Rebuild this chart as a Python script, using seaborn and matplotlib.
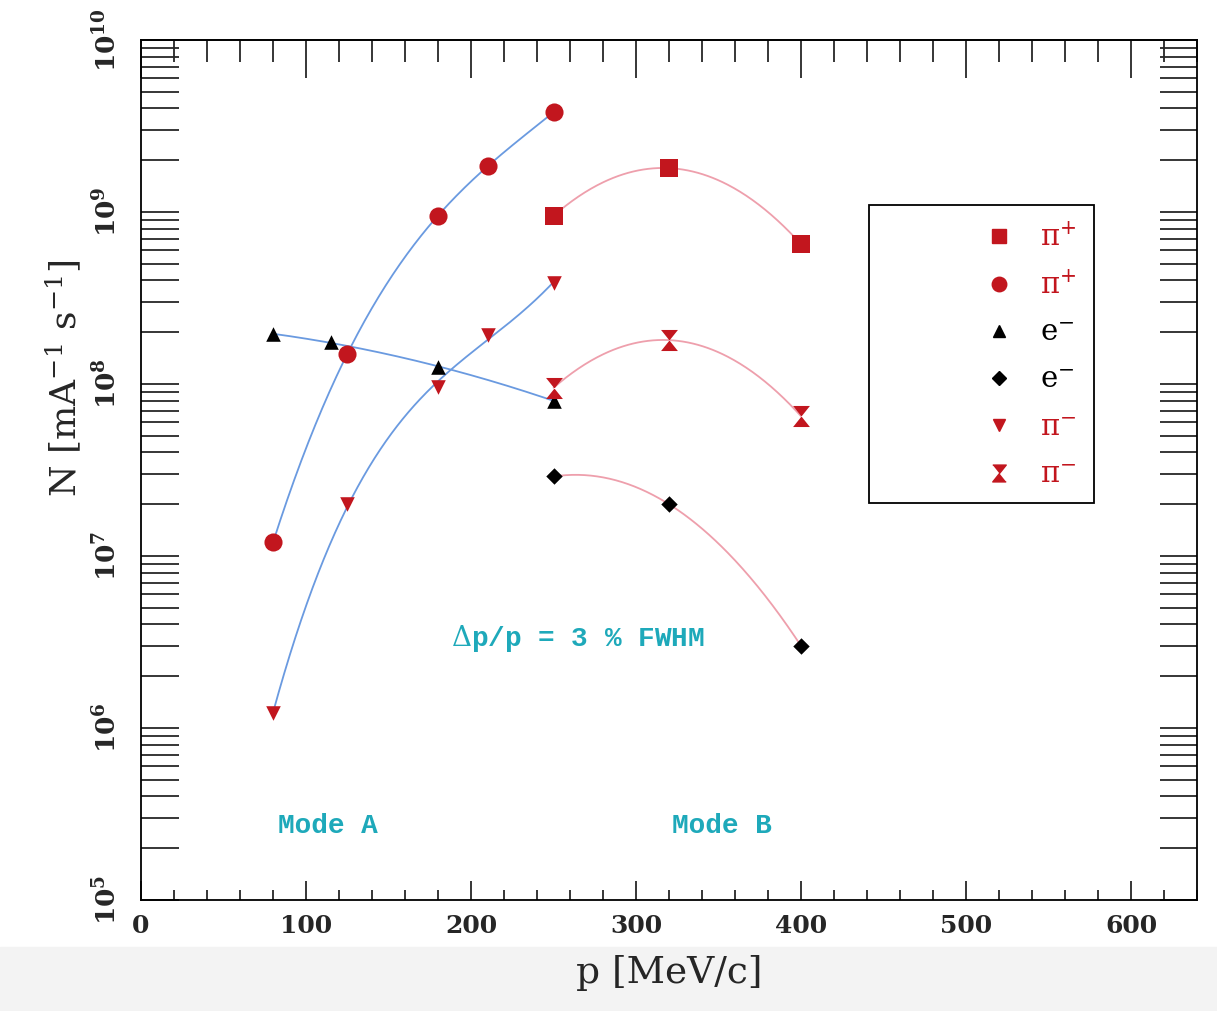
import numpy as np
import pandas as pd
import seaborn as sns
import matplotlib.pyplot as plt
from matplotlib.lines import Line2D
from matplotlib.patches import Rectangle
from matplotlib.ticker import LogLocator, MultipleLocator, FuncFormatter, NullFormatter

# --- data ---
# Mode A (blue curves)
pip_a_p = [80, 125, 180, 210, 250]
pip_a_n = [1.2e7, 1.5e8, 9.5e8, 1.85e9, 3.8e9]
em_a_p = [80, 115, 180, 250]
em_a_n = [1.95e8, 1.75e8, 1.26e8, 8.0e7]
pim_a_p = [80, 125, 180, 210, 250]
pim_a_n = [1.22e6, 2.0e7, 9.6e7, 1.93e8, 3.86e8]
# Mode B (pink curves)
pip_b_p = [250, 320, 400]
pip_b_n = [9.5e8, 1.8e9, 6.5e8]
em_b_p = [250, 320, 400]
em_b_n = [2.9e7, 2.0e7, 3.0e6]
pim_b_p = [250, 320, 400]
pim_b_n = [9.5e7, 1.8e8, 6.5e7]

RED = "#c2161e"
BLUE = "#6a9ae0"
PINK = "#ee9fac"
CYAN = "#1ea9ba"
HOURGLASS = [(-0.8, 1), (0.8, 1), (-0.8, -1), (0.8, -1)]

sns.set_theme(style="ticks")
plt.rcParams["font.family"] = ["DejaVu Serif"]
plt.rcParams["mathtext.fontset"] = "dejavuserif"

fig = plt.figure(figsize=(12.17, 10.11), dpi=100)
# light grey strip at the bottom of the screenshot
fig.patches.append(Rectangle((0, 0), 1, 0.063, transform=fig.transFigure,
                             color="#f3f3f3", zorder=-5))
ax = fig.add_axes([0.1159, 0.1098, 0.8677, 0.8506])


def smooth(p, n, deg):
    # smooth curve through the points, fitted in log space
    coef = np.polyfit(p, np.log10(n), deg)
    xs = np.linspace(min(p), max(p), 200)
    return pd.DataFrame({"p": xs, "n": 10 ** np.polyval(coef, xs)})


curves = [
    (pip_a_p, pip_a_n, 3, BLUE),
    (em_a_p, em_a_n, 2, BLUE),
    (pim_a_p, pim_a_n, 3, BLUE),
    (pip_b_p, pip_b_n, 2, PINK),
    (em_b_p, em_b_n, 2, PINK),
    (pim_b_p, pim_b_n, 2, PINK),
]
for p, n, deg, col in curves:
    sns.lineplot(data=smooth(p, n, deg), x="p", y="n", color=col, lw=1.3,
                 ax=ax, zorder=2)

series = [
    (pip_b_p, pip_b_n, "s", RED, 150),
    (pip_a_p, pip_a_n, "o", RED, 170),
    (em_a_p, em_a_n, "^", "black", 110),
    (em_b_p, em_b_n, "D", "black", 70),
    (pim_a_p, pim_a_n, "v", RED, 110),
    (pim_b_p, pim_b_n, HOURGLASS, RED, 230),
]
for p, n, m, col, s in series:
    sns.scatterplot(x=p, y=n, marker=m, color=col, s=s, linewidth=0,
                    ax=ax, zorder=3)

ax.set_yscale("log")
ax.set_xlim(0, 640)
ax.set_ylim(1e5, 1e10)

# ticks
ax.xaxis.set_major_locator(MultipleLocator(100))
ax.xaxis.set_minor_locator(MultipleLocator(20))
ax.yaxis.set_major_locator(LogLocator(base=10, numticks=10))
ax.yaxis.set_minor_locator(LogLocator(base=10, subs=np.arange(2, 10), numticks=20))
ax.yaxis.set_minor_formatter(NullFormatter())
ax.yaxis.set_major_formatter(FuncFormatter(lambda v, _: r"$\mathbf{10^{%d}}$" % round(np.log10(v))))
ax.tick_params(axis="y", which="both", direction="in", left=True, right=True,
               length=27, width=1.3, labelsize=19, pad=14)
ax.tick_params(axis="x", which="major", direction="in", length=14, width=1.3,
               labelsize=18, pad=10)
ax.tick_params(axis="x", which="minor", direction="in", length=7, width=1.3)
for lab in ax.get_yticklabels():
    lab.set_rotation(90)
    lab.set_va("center")
for lab in ax.get_xticklabels():
    lab.set_fontweight("bold")

top = ax.secondary_xaxis("top")
top.xaxis.set_major_locator(MultipleLocator(100))
top.xaxis.set_minor_locator(MultipleLocator(20))
top.tick_params(which="major", direction="in", length=27, width=1.3, labeltop=False)
top.tick_params(which="minor", direction="in", length=16, width=1.3)
top.spines["top"].set_linewidth(1.3)

for sp in ax.spines.values():
    sp.set_linewidth(1.3)
    sp.set_color("black")

ax.set_xlabel("p [MeV/c]", fontsize=27, labelpad=12)
ax.set_ylabel(r"N [mA$^{-1}$ s$^{-1}$]", fontsize=26)
ax.yaxis.set_label_coords(-0.055, 0.607)

# annotations
ax.text(265, 3.3e6, r"$\Delta$p/p = 3 % FWHM", color=CYAN, fontsize=20,
        family=["Liberation Mono", "DejaVu Sans"], fontweight="bold",
        ha="center", va="center")
ax.text(113, 2.7e5, "Mode A", color=CYAN, fontsize=20, family="Liberation Mono",
        fontweight="bold", ha="center", va="center")
ax.text(352, 2.7e5, "Mode B", color=CYAN, fontsize=20, family="Liberation Mono",
        fontweight="bold", ha="center", va="center")

# legend
ax.add_patch(Rectangle((0.689, 0.4616), 0.213, 0.3464, transform=ax.transAxes,
                       fill=False, ec="black", lw=1.3, zorder=4))
labels = ["π$^{+}$", "π$^{+}$", "e$^{-}$", "e$^{-}$", "π$^{-}$", "π$^{-}$"]
handles = [Line2D([], [], ls="", marker=m, color=c, markersize=np.sqrt(s) * 0.8)
           for _, _, m, c, s in series]
ax.legend(handles, labels, loc="upper left", bbox_to_anchor=(0.788, 0.80),
          frameon=False, fontsize=21, handlelength=1.0, handletextpad=0.9,
          labelspacing=0.66, borderaxespad=0,
          labelcolor=[RED, RED, "black", "black", RED, RED])

fig.savefig("out.png", dpi=100)
